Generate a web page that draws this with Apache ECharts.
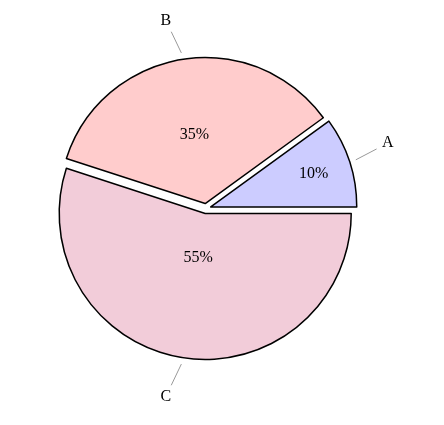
<!DOCTYPE html>
<html>
<head>
<meta charset="utf-8">
<script src="https://cdn.jsdelivr.net/npm/echarts@6/dist/echarts.min.js"></script>
<style>
  html, body { margin: 0; padding: 0; background: #fff; }
  #chart { width: 444px; height: 425px; }
</style>
</head>
<body>
<div id="chart"></div>
<script>
// data
const categories = ['A', 'B', 'C'];
const values = [10, 35, 55];

// style
const colors = ['#ccccff', '#ffcccc', '#f2ccd9'];
const pctLabelFrac = [0.72, 0.455, 0.29]; // where each % label sits along its slice
const lineTilt = [9.6, 16.5, -16.5];      // leader lines lean off the radial direction (deg)
const R = 146;
const CENTER = [206, 208.5];
const EXPLODE = 5;
const FONT = 'Liberation Serif';
const LINE_LEN = 23.5;
const NAME_GAP = 12.5;

const chart = echarts.init(document.getElementById('chart'));

const base = {
  type: 'pie',
  center: CENTER,
  startAngle: 0,
  clockwise: false,
  selectedMode: 'multiple',
  selectedOffset: EXPLODE,
  avoidLabelOverlap: false,
  animation: false,
  emphasis: { disabled: true }
};

const makeData = (labelFor, selected) =>
  categories.map((name, i) => ({
    name: name,
    value: values[i],
    selected: selected,
    label: { show: labelFor(i) }
  }));

const series = [];

// slices
series.push({
  ...base,
  radius: R,
  itemStyle: { borderColor: '#000', borderWidth: 1.5 },
  label: { show: false },
  labelLine: { show: false },
  data: categories.map((name, i) => ({
    name: name,
    value: values[i],
    selected: true,
    itemStyle: { color: colors[i] }
  }))
});

// percent labels, one helper ring per slice
categories.forEach((_, k) => {
  series.push({
    ...base,
    silent: true,
    radius: 2 * pctLabelFrac[k] * R,
    itemStyle: { color: 'transparent', borderWidth: 0 },
    label: {
      position: 'inside',
      formatter: (p) => p.value + '%',
      fontFamily: FONT,
      fontSize: 16,
      color: '#000'
    },
    labelLine: { show: false },
    data: makeData((i) => i === k, true)
  });
});

// names with leader lines (explode offset added by hand here)
series.push({
  ...base,
  silent: true,
  radius: 152.5,
  itemStyle: { color: 'transparent', borderWidth: 0 },
  label: {
    position: 'outside',
    formatter: '{b}',
    fontFamily: FONT,
    fontSize: 16,
    color: '#000'
  },
  labelLine: {
    show: true,
    length: 22.5,
    length2: 0.01,
    minTurnAngle: 0,
    maxSurfaceAngle: 180,
    lineStyle: { color: '#999', width: 1 }
  },
  labelLayout: function (p) {
    const pts = p.labelLinePoints;
    if (!pts) return {};
    const ux = pts[1][0] - pts[0][0], uy = pts[1][1] - pts[0][1];
    const ul = Math.hypot(ux, uy) || 1;
    const s = [pts[0][0] + EXPLODE * ux / ul, pts[0][1] + EXPLODE * uy / ul];
    const a = Math.atan2(uy, ux) - lineTilt[p.dataIndex] * Math.PI / 180;
    const end = [s[0] + LINE_LEN * Math.cos(a), s[1] + LINE_LEN * Math.sin(a)];
    const d = LINE_LEN + NAME_GAP;
    return {
      x: s[0] + d * Math.cos(a),
      y: s[1] + d * Math.sin(a),
      align: 'center',
      verticalAlign: 'middle',
      labelLinePoints: [s, end, end]
    };
  },
  data: makeData(() => true, false)
});

chart.setOption({ series: series });
</script>
</body>
</html>
